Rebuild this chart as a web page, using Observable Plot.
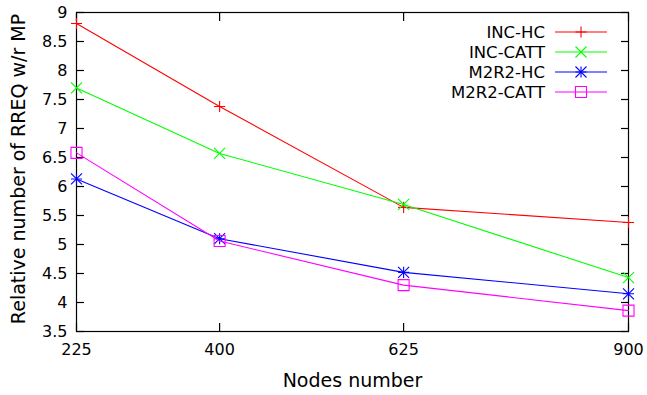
<!DOCTYPE html>
<html>
<head>
<meta charset="utf-8">
<script src="https://cdn.jsdelivr.net/npm/d3@7"></script>
<script src="https://cdn.jsdelivr.net/npm/@observablehq/plot@0.6"></script>
<style>
  body { margin: 0; background: white; }
  #chart { width: 647px; height: 395px; }
</style>
</head>
<body>
<div id="chart"></div>
<script>
// ---- data ----
const nodes = [225, 400, 625, 900];
const seriesNames = ["INC-HC", "INC-CATT", "M2R2-HC", "M2R2-CATT"];
const incHC = [8.81, 7.38, 5.64, 5.38];
const incCATT = [7.70, 6.57, 5.69, 4.43];
const m2r2HC = [6.13, 5.10, 4.52, 4.15];
const m2r2CATT = [6.58, 5.06, 4.30, 3.86];
const xTicks = [225, 400, 625, 900];
const yTicks = [3.5, 4, 4.5, 5, 5.5, 6, 6.5, 7, 7.5, 8, 8.5, 9];
const xLabel = "Nodes number";
const yLabel = "Relative number of RREQ w/r MP";

// ---- styling ----
const colors = ["#ff0000", "#00ff00", "#0000ff", "#ff00ff"];
const symbolSets = [["plus"], ["times"], ["plus", "times"], ["square2"]];
const symbolR = {plus: 3.66, times: 5.07, square2: 7.03};

const seriesValues = [incHC, incCATT, m2r2HC, m2r2CATT];
const rows = seriesValues.map((vals, s) =>
  nodes.map((n, i) => ({series: seriesNames[s], x: n, y: vals[i]}))
);

const marks = [];
rows.forEach((data, s) => {
  marks.push(Plot.line(data, {x: "x", y: "y", stroke: colors[s], strokeWidth: 1.1}));
  symbolSets[s].forEach(sym => {
    marks.push(Plot.dot(data, {x: "x", y: "y", symbol: sym, r: symbolR[sym], stroke: colors[s], fill: "none", strokeWidth: 1.1}));
  });
});

const W = 647, H = 395;
const mL = 76, mR = 19, mT = 12, mB = 64;

const plot = Plot.plot({
  width: W,
  height: H,
  marginLeft: mL,
  marginRight: mR,
  marginTop: mT,
  marginBottom: mB,
  style: {fontFamily: "DejaVu Sans", fontSize: "16px", background: "white", color: "black"},
  x: {type: "linear", domain: [225, 900]},
  y: {type: "linear", domain: [3.5, 9]},
  marks: [
    // inward tick marks on all four sides
    Plot.axisX(xTicks, {anchor: "bottom", tickSize: -8, tickFormat: () => "", label: null, strokeWidth: 1.2}),
    Plot.axisX(xTicks, {anchor: "top", tickSize: -8, tickFormat: () => "", label: null, strokeWidth: 1.2}),
    Plot.axisY(yTicks, {anchor: "left", tickSize: -8, tickFormat: () => "", label: null, strokeWidth: 1.2}),
    Plot.axisY(yTicks, {anchor: "right", tickSize: -8, tickFormat: () => "", label: null, strokeWidth: 1.2}),
    // tick labels
    Plot.axisX(xTicks, {anchor: "bottom", tickSize: 0, tickPadding: 12, tickFormat: d => String(d), label: null, fontSize: 16}),
    Plot.axisY(yTicks, {anchor: "left", tickSize: 0, tickPadding: 9, tickFormat: d => String(d), label: null, fontSize: 16}),
    Plot.frame({stroke: "black", strokeWidth: 1.2}),
    ...marks,
    Plot.text([xLabel], {text: d => d, frameAnchor: "bottom", dy: 55, fontSize: 19}),
    Plot.text([yLabel], {text: d => d, frameAnchor: "left", textAnchor: "middle", rotate: -90, dx: -58, dy: -3, fontSize: 19})
  ]
});

document.getElementById("chart").appendChild(plot);

// ---- legend (top-right, inside the frame) ----
const svg = d3.select(plot);
const frameRight = W - mR;
const legend = svg.append("g").attr("font-family", "DejaVu Sans").attr("font-size", 16.5);
const symbolTypes = {plus: d3.symbolPlus, times: d3.symbolTimes, square2: d3.symbolSquare2};
seriesNames.forEach((name, i) => {
  const y = mT + 20 * (i + 1);
  const lineX1 = frameRight - 73, lineX2 = frameRight - 21;
  const g = legend.append("g");
  g.append("text")
    .attr("x", lineX1 - 10).attr("y", y).attr("dy", "0.35em")
    .attr("text-anchor", "end").attr("fill", "black").text(name);
  g.append("line")
    .attr("x1", lineX1).attr("x2", lineX2).attr("y1", y).attr("y2", y)
    .attr("stroke", colors[i]).attr("stroke-width", 1.1);
  symbolSets[i].forEach(sym => {
    const r = symbolR[sym];
    g.append("path")
      .attr("transform", `translate(${(lineX1 + lineX2) / 2},${y})`)
      .attr("d", d3.symbol(symbolTypes[sym], Math.PI * r * r)())
      .attr("fill", "none").attr("stroke", colors[i]).attr("stroke-width", 1.1);
  });
});
</script>
</body>
</html>
